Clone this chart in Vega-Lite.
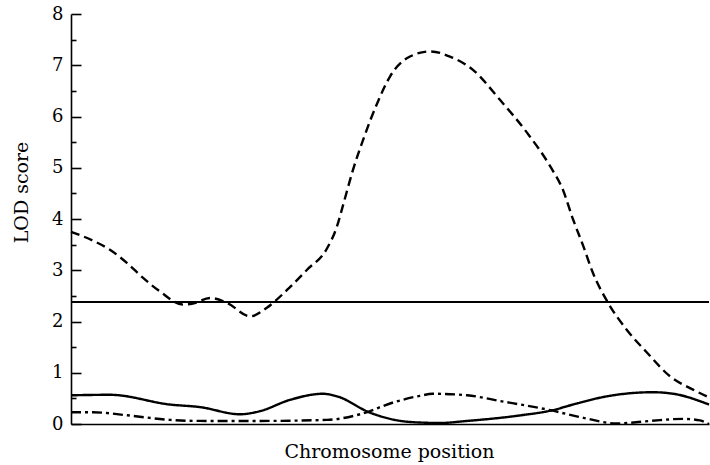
{
  "$schema": "https://vega.github.io/schema/vega-lite/v6.json",
  "width": 638,
  "height": 410,
  "autosize": "none",
  "padding": {"left": 71, "top": 14, "right": 1, "bottom": 41},
  "background": "white",
  "config": {
    "view": {"stroke": null},
    "font": "DejaVu Serif",
    "axis": {
      "grid": false,
      "domainColor": "black",
      "domainWidth": 1.6,
      "tickColor": "black",
      "tickWidth": 1.6,
      "labelColor": "black",
      "titleColor": "black",
      "labelFont": "DejaVu Serif",
      "titleFont": "DejaVu Serif",
      "titleFontWeight": "normal"
    }
  },
  "datasets": {
    "threshold": [{"lod": 2.38}],
    "scan": [
      {"series": "A", "position": 0.0, "lod": 3.75},
      {"series": "A", "position": 3.4, "lod": 3.58},
      {"series": "A", "position": 6.1, "lod": 3.40},
      {"series": "A", "position": 8.8, "lod": 3.14},
      {"series": "A", "position": 11.3, "lod": 2.85},
      {"series": "A", "position": 13.9, "lod": 2.59},
      {"series": "A", "position": 17.6, "lod": 2.33},
      {"series": "A", "position": 19.1, "lod": 2.35},
      {"series": "A", "position": 21.8, "lod": 2.46},
      {"series": "A", "position": 24.5, "lod": 2.36},
      {"series": "A", "position": 28.1, "lod": 2.10},
      {"series": "A", "position": 30.7, "lod": 2.27},
      {"series": "A", "position": 33.9, "lod": 2.62},
      {"series": "A", "position": 37.0, "lod": 3.01},
      {"series": "A", "position": 40.1, "lod": 3.42},
      {"series": "A", "position": 41.7, "lod": 3.86},
      {"series": "A", "position": 42.6, "lod": 4.25},
      {"series": "A", "position": 44.2, "lod": 4.96},
      {"series": "A", "position": 45.8, "lod": 5.55},
      {"series": "A", "position": 48.0, "lod": 6.26},
      {"series": "A", "position": 50.0, "lod": 6.78},
      {"series": "A", "position": 52.7, "lod": 7.14},
      {"series": "A", "position": 56.3, "lod": 7.27},
      {"series": "A", "position": 59.4, "lod": 7.17},
      {"series": "A", "position": 63.0, "lod": 6.91},
      {"series": "A", "position": 67.2, "lod": 6.33},
      {"series": "A", "position": 71.5, "lod": 5.68},
      {"series": "A", "position": 75.1, "lod": 5.03},
      {"series": "A", "position": 77.1, "lod": 4.57},
      {"series": "A", "position": 78.7, "lod": 3.99},
      {"series": "A", "position": 80.3, "lod": 3.47},
      {"series": "A", "position": 81.8, "lod": 2.95},
      {"series": "A", "position": 84.2, "lod": 2.36},
      {"series": "A", "position": 87.1, "lod": 1.84},
      {"series": "A", "position": 90.3, "lod": 1.39},
      {"series": "A", "position": 93.9, "lod": 0.93},
      {"series": "A", "position": 97.5, "lod": 0.67},
      {"series": "A", "position": 100.0, "lod": 0.52},

      {"series": "B", "position": 0.0, "lod": 0.56},
      {"series": "B", "position": 6.1, "lod": 0.57},
      {"series": "B", "position": 15.5, "lod": 0.38},
      {"series": "B", "position": 20.2, "lod": 0.33},
      {"series": "B", "position": 26.5, "lod": 0.19},
      {"series": "B", "position": 29.6, "lod": 0.25},
      {"series": "B", "position": 34.3, "lod": 0.47},
      {"series": "B", "position": 39.5, "lod": 0.59},
      {"series": "B", "position": 41.7, "lod": 0.54},
      {"series": "B", "position": 46.9, "lod": 0.22},
      {"series": "B", "position": 53.1, "lod": 0.04},
      {"series": "B", "position": 57.8, "lod": 0.02},
      {"series": "B", "position": 62.1, "lod": 0.06},
      {"series": "B", "position": 69.9, "lod": 0.16},
      {"series": "B", "position": 75.5, "lod": 0.27},
      {"series": "B", "position": 78.7, "lod": 0.38},
      {"series": "B", "position": 84.0, "lod": 0.54},
      {"series": "B", "position": 91.2, "lod": 0.62},
      {"series": "B", "position": 94.4, "lod": 0.59},
      {"series": "B", "position": 100.0, "lod": 0.38},

      {"series": "C", "position": 0.0, "lod": 0.23},
      {"series": "C", "position": 3.4, "lod": 0.23},
      {"series": "C", "position": 8.8, "lod": 0.17},
      {"series": "C", "position": 15.5, "lod": 0.08},
      {"series": "C", "position": 20.2, "lod": 0.06},
      {"series": "C", "position": 29.6, "lod": 0.06},
      {"series": "C", "position": 40.1, "lod": 0.08},
      {"series": "C", "position": 45.3, "lod": 0.19},
      {"series": "C", "position": 50.5, "lod": 0.42},
      {"series": "C", "position": 54.7, "lod": 0.55},
      {"series": "C", "position": 56.7, "lod": 0.59},
      {"series": "C", "position": 62.1, "lod": 0.56},
      {"series": "C", "position": 67.2, "lod": 0.45},
      {"series": "C", "position": 75.1, "lod": 0.27},
      {"series": "C", "position": 80.3, "lod": 0.12},
      {"series": "C", "position": 85.6, "lod": 0.01},
      {"series": "C", "position": 90.8, "lod": 0.06},
      {"series": "C", "position": 95.9, "lod": 0.10},
      {"series": "C", "position": 98.6, "lod": 0.07},
      {"series": "C", "position": 100.0, "lod": 0.0}
    ]
  },
  "layer": [
    {
      "data": {"name": "threshold"},
      "mark": {"type": "rule", "color": "black", "strokeWidth": 2.2},
      "encoding": {
        "y": {
          "field": "lod",
          "type": "quantitative",
          "scale": {"domain": [0, 8], "nice": false},
          "axis": {
            "orient": "left",
            "values": [0.5, 1.5, 2.5, 3.5, 4.5, 5.5, 6.5, 7.5],
            "tickSize": -5,
            "labels": false,
            "domain": false,
            "title": null
          }
        }
      }
    },
    {
      "data": {"name": "scan"},
      "mark": {"type": "line", "color": "black", "strokeWidth": 2.4, "interpolate": "monotone"},
      "encoding": {
        "x": {
          "field": "position",
          "type": "quantitative",
          "scale": {"domain": [0, 100], "nice": false},
          "axis": {
            "title": "Chromosome position",
            "ticks": false,
            "labels": false,
            "titleFontSize": 19,
            "titleX": 318,
            "titleY": 33,
            "titleBaseline": "alphabetic"
          }
        },
        "y": {
          "field": "lod",
          "type": "quantitative",
          "scale": {"domain": [0, 8], "nice": false},
          "axis": {
            "orient": "left",
            "values": [0, 1, 2, 3, 4, 5, 6, 7, 8],
            "tickSize": -10,
            "labelPadding": 18,
            "labelFontSize": 18,
            "title": "LOD score",
            "titleFontSize": 19,
            "titleAngle": -90,
            "titleX": -44,
            "titleY": 178,
            "titleAlign": "center",
            "titleBaseline": "alphabetic"
          }
        },
        "strokeDash": {
          "field": "series",
          "type": "nominal",
          "scale": {"domain": ["A", "B", "C"], "range": [[9, 5], [1, 0], [10, 4, 3, 4]]},
          "legend": null
        }
      }
    }
  ],
  "resolve": {"axis": {"y": "independent"}}
}
